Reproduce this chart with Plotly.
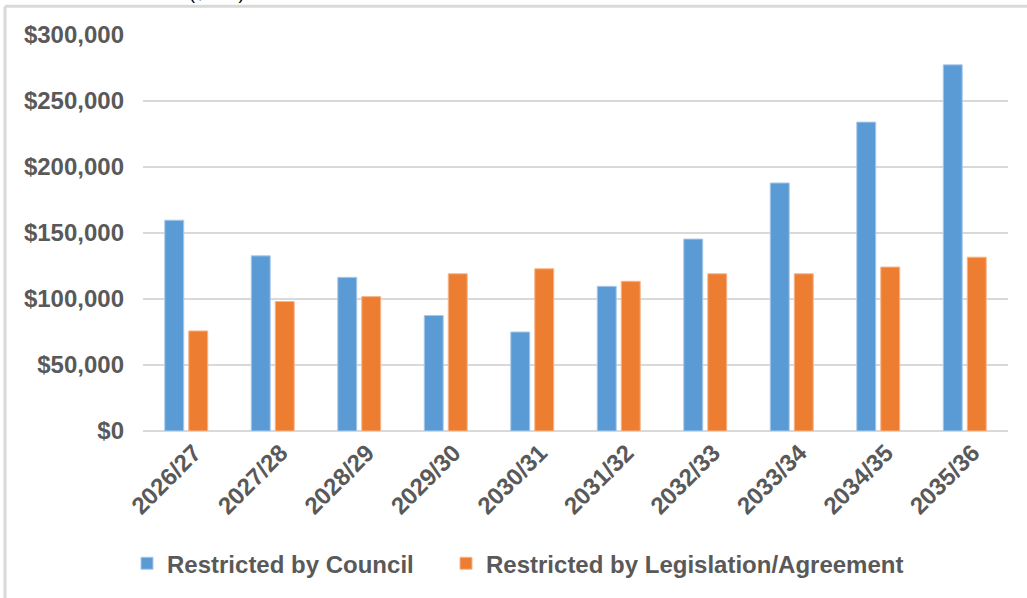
import plotly.graph_objects as go

# Financial years and reserve balances ($)
years = ["2026/27", "2027/28", "2028/29", "2029/30", "2030/31",
         "2031/32", "2032/33", "2033/34", "2034/35", "2035/36"]
council = [159700, 132700, 116400, 87500, 75000,
           109600, 145400, 187900, 234000, 277400]
legislation = [75800, 98100, 101800, 119100, 122900,
               113400, 119100, 119100, 124200, 131700]

y_ticks = [0, 50000, 100000, 150000, 200000, 250000, 300000]
y_tick_labels = ["$0", "$50,000", "$100,000", "$150,000",
                 "$200,000", "$250,000", "$300,000"]

BLUE = "#5B9BD5"
ORANGE = "#ED7D31"
TEXT = "#595959"
GRID = "#D9D9D9"
FONT = "Liberation Sans, Arial, sans-serif"
PLOT_W = 865
PLOT_H = 399

fig = go.Figure()
fig.add_trace(go.Bar(
    x=years, y=council, name="Restricted by Council",
    marker=dict(color=BLUE, line=dict(color="#A8C9EA", width=1)),
    legend="legend",
))
fig.add_trace(go.Bar(
    x=years, y=legislation, name="Restricted by Legislation/Agreement",
    marker=dict(color=ORANGE, line=dict(color="#F6B68C", width=1)),
    legend="legend2",
))

legend_font = dict(family=FONT, size=24, color=TEXT, weight="bold")

fig.update_layout(
    width=1027, height=598,
    margin=dict(l=143, r=19, t=35, b=164),
    paper_bgcolor="white", plot_bgcolor="white",
    barmode="group", bargap=0.445, bargroupgap=0.21,
    font=dict(family=FONT, color=TEXT),
    showlegend=True,
    legend=dict(
        orientation="h", x=-16 / PLOT_W, xanchor="left",
        y=-0.335, yanchor="middle", font=legend_font,
        itemclick=False, itemdoubleclick=False,
    ),
    legend2=dict(
        orientation="h", x=303 / PLOT_W, xanchor="left",
        y=-0.335, yanchor="middle", font=legend_font,
        itemclick=False, itemdoubleclick=False,
    ),
    xaxis=dict(
        showgrid=False, showline=False, zeroline=False,
        tickangle=-45,
        tickfont=dict(family=FONT, size=24, color=TEXT, weight="bold"),
        ticks="", ticklabelstandoff=2, ticklabelshift=8,
    ),
    yaxis=dict(
        range=[0, 300000], tickvals=y_ticks, ticktext=y_tick_labels,
        showgrid=True, gridcolor=GRID, gridwidth=2,
        zeroline=True, zerolinecolor=GRID, zerolinewidth=2,
        showline=False, ticks="", ticklabelstandoff=18,
        tickfont=dict(family=FONT, size=24, color=TEXT, weight="bold"),
    ),
)

# Outer chart frame (top and left edges visible)
fig.add_shape(type="line", xref="paper", yref="paper",
              x0=-138 / PLOT_W, x1=1.1, y0=1 + 29 / PLOT_H, y1=1 + 29 / PLOT_H,
              line=dict(color=GRID, width=3))
fig.add_shape(type="line", xref="paper", yref="paper",
              x0=-138 / PLOT_W, x1=-138 / PLOT_W, y0=1 + 29 / PLOT_H, y1=-0.5,
              line=dict(color=GRID, width=3))

# Chart title sitting above the frame
fig.add_annotation(text="($'000)", xref="paper", yref="paper",
                   x=(216 - 143) / PLOT_W, y=1 + 30 / PLOT_H,
                   xanchor="center", yanchor="bottom", showarrow=False,
                   font=dict(family=FONT, size=18, color="black"))

fig.write_html("out.html")
